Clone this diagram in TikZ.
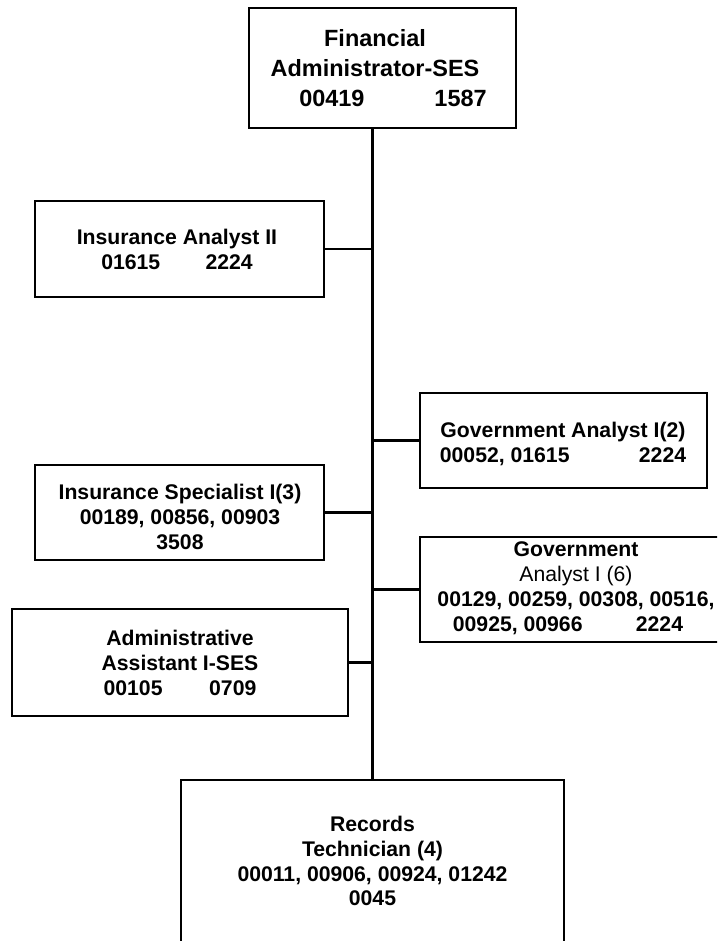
\documentclass[tikz,border=0pt]{standalone}
\usepackage{fontspec}
\setmainfont{Liberation Sans}
\begin{document}
\begin{tikzpicture}[x=0.75pt,y=-0.75pt,
  post/.style={draw=black,line width=1.5pt,fill=white,inner sep=0pt},
  ttl/.style={font=\bfseries\fontsize{15.9}{18.7}\selectfont,align=center,inner sep=0pt},
  toptl/.style={font=\bfseries\fontsize{17.6}{22.5}\selectfont,align=center,inner sep=0pt},
  link/.style={draw=black,line width=1.7pt}]
\useasboundingbox (0,0) rectangle (717,941);
\fill[white] (0,0) rectangle (717,941);
\begin{scope}
\clip (0,0) rectangle (717,941);
% position boxes
\node[post,minimum width=200.25pt,minimum height=90pt] (fa) at (382.5,68) {};
\node[post,minimum width=216.75pt,minimum height=72pt] (ia) at (179.5,249) {};
\node[post,minimum width=215.25pt,minimum height=71.25pt] (ga2) at (563.5,440.5) {};
\node[post,minimum width=216.75pt,minimum height=71.25pt] (is) at (179.5,512.5) {};
\node[post,minimum width=234pt,minimum height=78.75pt] (ga6) at (576,589.5) {};
\node[post,minimum width=252pt,minimum height=80.25pt] (aa) at (180,662.5) {};
\node[post,minimum width=287.25pt,minimum height=121.5pt] (rt) at (372.5,861) {};
% titles and position numbers
\node[toptl] (fa-t) at (375,68) {Financial\\Administrator-SES\\\hspace*{27pt}00419\hspace{52.5pt}1587};
\node[ttl] (ia-t) at (177,249.5) {Insurance Analyst II\\01615\hspace{34pt}2224};
\node[ttl] (ga2-t) at (563,444) {Government Analyst I(2)\\00052, 01615\hspace{52pt}2224};
\node[ttl] (is-t) at (180,517) {Insurance Specialist I(3)\\00189, 00856, 00903\\3508};
\node[ttl] (ga6-t) at (576,588.5) {Government\\{\mdseries Analyst I (6)}\\00129, 00259, 00308, 00516,\\00925, 00966\hspace{40pt}2224\hspace{12pt}\mbox{}};
\node[ttl] (aa-t) at (180,663) {Administrative\\Assistant I-SES\\00105\hspace{35pt}0709};
\node[ttl] (rt-t) at (372.5,861) {Records\\Technician (4)\\00011, 00906, 00924, 01242\\0045};
% reporting lines
\draw[link] (fa.south -| rt.north) -- (rt.north);
\draw[link] (ia.east) -- (ia.east -| rt.north);
\draw[link] (ga2.west) -- (ga2.west -| rt.north);
\draw[link] (is.east) -- (is.east -| rt.north);
\draw[link] (ga6.west) -- (ga6.west -| rt.north);
\draw[link] (aa.east) -- (aa.east -| rt.north);
\end{scope}
\end{tikzpicture}
\end{document}
